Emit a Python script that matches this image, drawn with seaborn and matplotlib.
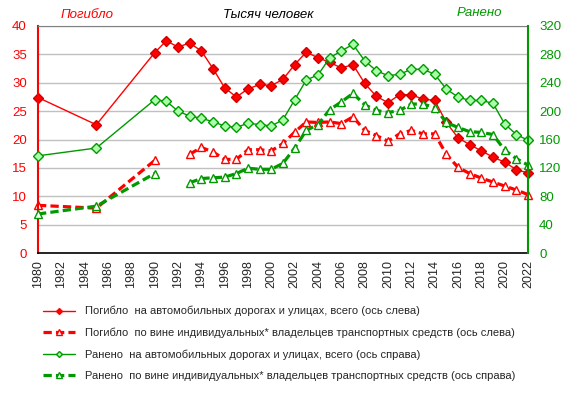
import pandas as pd
import seaborn as sns
import matplotlib.pyplot as plt
from matplotlib.lines import Line2D

# years with data
years_all = [1980, 1985] + list(range(1990, 2023))
years_owner = [1980, 1985, 1990] + list(range(1993, 2023))

# thousand people
killed_total = [27.4, 22.6, 35.3, 37.4, 36.3, 37.0, 35.6, 32.5, 29.1, 27.5,
                28.9, 29.7, 29.5, 30.6, 33.2, 35.4, 34.4, 33.6, 32.6, 33.2,
                29.9, 27.6, 26.5, 27.9, 27.9, 27.1, 26.9, 23.0, 20.3, 19.1,
                18.0, 16.9, 16.0, 14.7, 14.1]
injured_total = [137, 148, 216, 214, 200, 193, 190, 185, 179, 177,
                 183, 181, 179, 188, 216, 244, 251, 275, 285, 294,
                 271, 257, 250, 252, 259, 259, 252, 231, 220, 215,
                 215, 211, 182, 167, 159]
killed_owner = [8.4, 7.9, 16.3, 17.4, 18.6, 17.8, 16.5, 16.5, 18.2, 18.2,
                18.0, 19.3, 21.3, 23.1, 23.0, 23.1, 22.8, 24.0, 21.6, 20.7,
                19.7, 21.0, 21.6, 21.0, 21.0, 17.4, 15.1, 14.0, 13.2, 12.5,
                11.8, 11.1, 10.3]
injured_owner = [55, 66, 112, 99, 105, 106, 107, 112, 119.5, 118,
                 118, 126.5, 148, 173, 181, 202, 213, 225, 209, 201,
                 198, 201, 210, 210, 205, 184, 177, 171, 170, 167,
                 145, 133, 124]

legend_labels = [
    "Погибло  на автомобильных дорогах и улицах, всего (ось слева)",
    "Погибло  по вине индивидуальных* владельцев транспортных средств (ось слева)",
    "Ранено  на автомобильных дорогах и улицах, всего (ось справа)",
    "Ранено  по вине индивидуальных* владельцев транспортных средств (ось справа)",
]

RED = "#FF0000"
GREEN = "#009900"
PALE_GREEN = "#A8FFA8"
DASH = (0, (2.6, 1.3))

sns.set_style("white")
plt.rcParams["font.family"] = ["Liberation Sans", "DejaVu Sans"]

df_total = pd.DataFrame({"year": years_all, "killed": killed_total,
                         "injured": injured_total})
df_owner = pd.DataFrame({"year": years_owner, "killed": killed_owner,
                         "injured": injured_owner})
df_owner["seg"] = (df_owner["year"] > 1990).astype(int)  # gap 1991-1992

fig = plt.figure(figsize=(5.73, 3.95), dpi=100)
ax = fig.add_axes([38 / 573, 1 - 253 / 395, 490 / 573, 227 / 395])
ax2 = ax.twinx()

total_kw = dict(estimator=None, lw=1, marker="D", clip_on=False)
owner_kw = dict(units="seg", estimator=None, lw=2.3, linestyle=DASH,
                marker="^", ms=6, mfc="white", mew=1, clip_on=False)

sns.lineplot(data=df_total, x="year", y="killed", ax=ax, color=RED,
             ms=5.5, mfc=RED, mec="#D00000", mew=1, **total_kw)
sns.lineplot(data=df_owner, x="year", y="killed", ax=ax, color=RED,
             mec=RED, **owner_kw)
sns.lineplot(data=df_total, x="year", y="injured", ax=ax2, color=GREEN,
             ms=5.5, mfc=PALE_GREEN, mec=GREEN, mew=1, **total_kw)
sns.lineplot(data=df_owner, x="year", y="injured", ax=ax2, color=GREEN,
             mec=GREEN, **owner_kw)

ax.set_xlim(1980, 2022)
ax.set_ylim(0, 40)
ax2.set_ylim(0, 320)
ax.set_xticks(range(1980, 2023, 2))
ax.set_xticklabels([str(y) for y in range(1980, 2023, 2)], rotation=90)
ax.set_yticks(range(0, 41, 5))
ax2.set_yticks(range(0, 321, 40))
ax.set_xlabel("")
ax.set_ylabel("")
ax2.set_ylabel("")

ax.yaxis.grid(True, color="#C0C0C0", lw=1)
ax.xaxis.grid(False)
ax2.grid(False)
ax.set_axisbelow(True)

ax.tick_params(axis="y", labelcolor=RED, labelsize=9.5, length=0, pad=8)
ax2.tick_params(axis="y", labelcolor=GREEN, labelsize=9.5, length=0, pad=8)
ax.tick_params(axis="x", labelsize=9, length=3, pad=2, color="black")

for s in ["left", "top", "bottom"]:
    ax2.spines[s].set_visible(False)
ax.spines["right"].set_visible(False)
ax.spines["left"].set_color(RED)
ax.spines["left"].set_linewidth(1.5)
ax2.spines["right"].set_color(GREEN)
ax2.spines["right"].set_linewidth(1.5)
ax.spines["top"].set_color("#808080")
ax.spines["bottom"].set_color("black")
ax.spines["bottom"].set_linewidth(1.2)

fig.text(87 / 573, 1 - 15 / 395, "Погибло", color=RED, style="italic",
         ha="center", va="center", fontsize=9.5)
fig.text(268 / 573, 1 - 15 / 395, "Тысяч человек", color="black",
         style="italic", ha="center", va="center", fontsize=9.5)
fig.text(479 / 573, 1 - 13 / 395, "Ранено", color=GREEN, style="italic",
         ha="center", va="center", fontsize=9.5)

handles = [
    Line2D([], [], color=RED, lw=1, marker="D", ms=3, mfc=RED, mec=RED),
    Line2D([], [], color=RED, lw=2.3, ls=DASH, marker="^", ms=4,
           mfc="white", mec=RED),
    Line2D([], [], color=GREEN, lw=1, marker="D", ms=3, mfc=PALE_GREEN,
           mec=GREEN),
    Line2D([], [], color=GREEN, lw=2.3, ls=DASH, marker="^", ms=4,
           mfc="white", mec=GREEN),
]
fig.legend(handles, legend_labels, loc="upper left",
           bbox_to_anchor=(43 / 573, 1 - 306 / 395), frameon=False,
           fontsize=8, handlelength=2.9, handletextpad=0.9,
           labelspacing=1.02, borderpad=0, borderaxespad=0, numpoints=1)

fig.savefig("out.png", dpi=100)
